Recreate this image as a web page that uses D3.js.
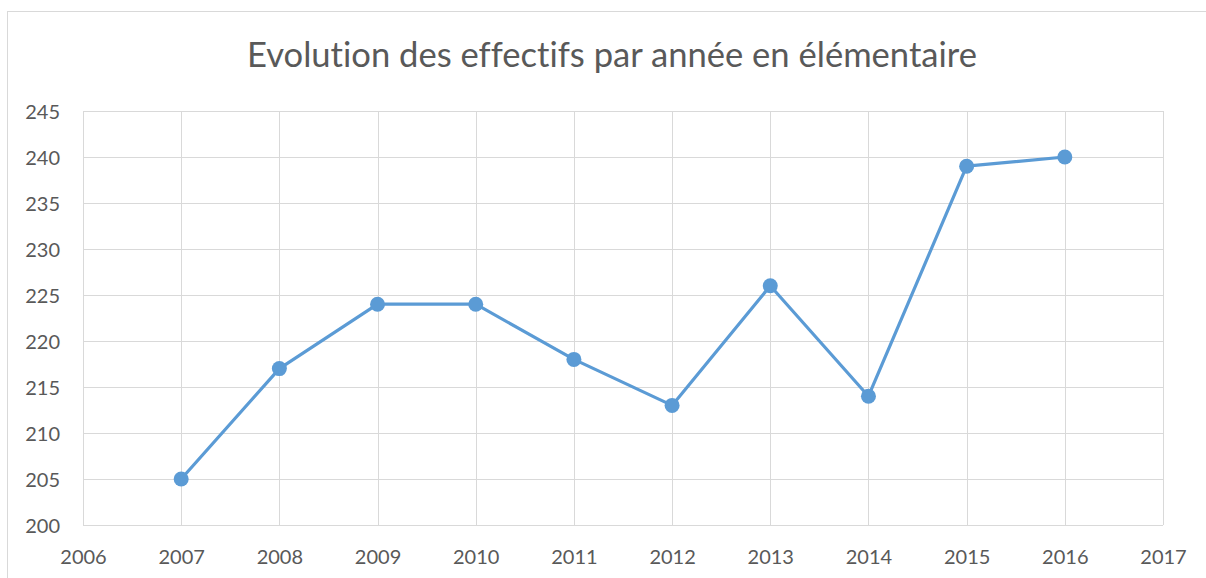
<!DOCTYPE html>
<html>
<head>
<meta charset="utf-8">
<script src="https://cdn.jsdelivr.net/npm/d3@7"></script>
<style>
  body { margin: 0; background: #fff; }
  text { font-family: Lato, "Open Sans", sans-serif; fill: #595959; font-variant-ligatures: none; font-feature-settings: "liga" 0; }
</style>
</head>
<body>
<script>
// data
const years = [2007, 2008, 2009, 2010, 2011, 2012, 2013, 2014, 2015, 2016];
const effectifs = [205, 217, 224, 224, 218, 213, 226, 214, 239, 240];
const xTicks = [2006, 2007, 2008, 2009, 2010, 2011, 2012, 2013, 2014, 2015, 2016, 2017];
const yTicks = [200, 205, 210, 215, 220, 225, 230, 235, 240, 245];
const title = "Evolution des effectifs par année en élémentaire";

const W = 1206, H = 578;
const margin = {top: 111, right: 43, bottom: 53, left: 83};
const width = W - margin.left - margin.right,
      height = H - margin.top - margin.bottom;

const svg = d3.select("body").append("svg")
    .attr("width", W)
    .attr("height", H);

// chart frame (runs off the right/bottom edge)
svg.append("rect")
    .attr("x", 7.5).attr("y", 11.5)
    .attr("width", W + 20).attr("height", H + 20)
    .attr("fill", "none")
    .attr("stroke", "#d9d9d9");

const g = svg.append("g")
    .attr("transform", `translate(${margin.left},${margin.top})`);

const x = d3.scaleLinear().domain([2006, 2017]).range([0, width]);
const y = d3.scaleLinear().domain([200, 245]).range([height, 0]);

// gridlines
g.append("g")
  .selectAll("line")
  .data(yTicks)
  .join("line")
    .attr("x1", 0).attr("x2", width)
    .attr("y1", d => Math.round(y(d)) + 0.5)
    .attr("y2", d => Math.round(y(d)) + 0.5)
    .attr("stroke", "#d9d9d9");

g.append("g")
  .selectAll("line")
  .data(xTicks)
  .join("line")
    .attr("y1", 0).attr("y2", height)
    .attr("x1", d => Math.round(x(d)) + 0.5)
    .attr("x2", d => Math.round(x(d)) + 0.5)
    .attr("stroke", "#d9d9d9");

// axes: labels only, no domain/tick lines
const xAxis = g.append("g")
    .attr("transform", `translate(0,${height})`)
    .call(d3.axisBottom(x).tickValues(xTicks).tickFormat(d3.format("d")).tickSize(0).tickPadding(39));
const yAxis = g.append("g")
    .call(d3.axisLeft(y).tickValues(yTicks).tickSize(0).tickPadding(23));
[xAxis, yAxis].forEach(a => {
  a.select(".domain").remove();
  a.selectAll("text").attr("font-family", null).style("font-size", "20px").attr("fill", "#595959");
});
yAxis.selectAll("text").attr("dy", "0.35em");
xAxis.selectAll("text").attr("dy", 0);

// line + markers
const line = d3.line()
    .x((d, i) => x(years[i]))
    .y(d => y(d));

g.append("path")
    .datum(effectifs)
    .attr("fill", "none")
    .attr("stroke", "#5b9bd5")
    .attr("stroke-width", 3.2)
    .attr("stroke-linejoin", "round")
    .attr("d", line);

g.selectAll(".pt")
    .data(effectifs)
    .join("circle")
    .attr("class", "pt")
    .attr("cx", (d, i) => x(years[i]))
    .attr("cy", d => y(d))
    .attr("r", 7.5)
    .attr("fill", "#5b9bd5");

// title, fitted to the reference width
const t = svg.append("text")
    .attr("x", 612)
    .attr("y", 67)
    .attr("text-anchor", "middle")
    .style("font-size", "32px")
    .text(title);
const tw = t.node().getComputedTextLength();
t.style("font-size", (32 * 731 / tw).toFixed(1) + "px");
</script>
</body>
</html>
